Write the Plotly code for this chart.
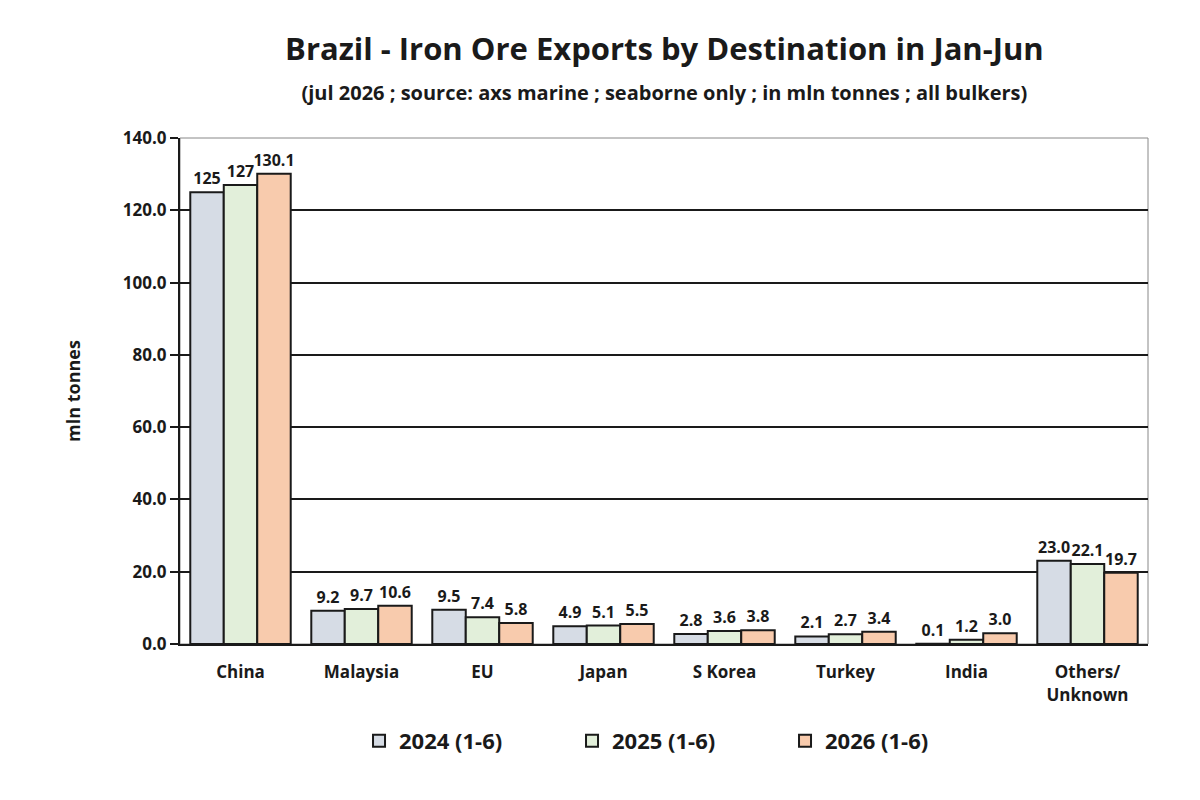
import plotly.graph_objects as go

categories = ["China", "Malaysia", "EU", "Japan", "S Korea", "Turkey", "India", "Others/<br>Unknown"]
y2024 = [125.0, 9.2, 9.5, 4.9, 2.8, 2.1, 0.1, 23.0]
y2025 = [127.0, 9.7, 7.4, 5.1, 3.6, 2.7, 1.2, 22.1]
y2026 = [130.1, 10.6, 5.8, 5.5, 3.8, 3.4, 3.0, 19.7]
labels2024 = ["125", "9.2", "9.5", "4.9", "2.8", "2.1", "0.1", "23.0"]
labels2025 = ["127", "9.7", "7.4", "5.1", "3.6", "2.7", "1.2", "22.1"]
labels2026 = ["130.1", "10.6", "5.8", "5.5", "3.8", "3.4", "3.0", "19.7"]
series_names = ["2024 (1-6)", "2025 (1-6)", "2026 (1-6)"]
colors = ["#d6dce5", "#e2efda", "#f8cbad"]

font = "Open Sans"
ink = "#1a1a1a"
fig = go.Figure()
for name, vals, txt, col in zip(series_names, [y2024, y2025, y2026],
                                [labels2024, labels2025, labels2026], colors):
    fig.add_trace(go.Bar(
        x=categories, y=vals, name=name, text=txt,
        textposition="outside", cliponaxis=False, constraintext="none",
        textfont=dict(family=font, size=16, color=ink, weight="bold"),
        marker=dict(color=col, line=dict(color=ink, width=2)),
    ))

fig.update_layout(
    width=1200, height=800,
    paper_bgcolor="#FFFFFF", plot_bgcolor="#FFFFFF",
    barmode="group", bargap=0.17, bargroupgap=0.0,
    margin=dict(l=172, r=60, t=130, b=164),
    font=dict(family=font, color=ink),
    title=dict(
        text="<b>Brazil - Iron Ore Exports by Destination in Jan-Jun</b><br>"
             "<span style='font-size:20px'><b>(jul 2026 ; source: axs marine ; seaborne only ; in mln tonnes ; all bulkers)</b></span>",
        x=0.547, xanchor="center", y=0.935, yanchor="top",
        font=dict(family=font, size=31, color=ink),
    ),
    legend=dict(
        orientation="h", x=0.515, xanchor="center", y=-0.15, yanchor="top",
        font=dict(family=font, size=22, color=ink, weight="bold"),
        entrywidth=168, itemsizing="constant", traceorder="normal",
    ),
)
fig.update_xaxes(
    showline=True, linecolor=ink, linewidth=2,
    tickfont=dict(family=font, size=17, color=ink, weight="bold"),
    ticks="", ticklabelstandoff=12,
)
fig.update_yaxes(
    range=[0, 140], dtick=20, tickformat=".1f",
    showgrid=True, gridcolor=ink, gridwidth=1.5,
    showline=True, linecolor=ink, linewidth=2,
    ticks="outside", ticklen=8, tickcolor=ink, tickwidth=2,
    tickfont=dict(family=font, size=17, color=ink, weight="bold"),
    title=dict(text="<b>mln tonnes</b>", font=dict(family=font, size=18, color=ink), standoff=38),
    zeroline=False,
)
# thin frame around plot area
fig.add_shape(type="rect", xref="paper", yref="paper", x0=0, y0=0, x1=1, y1=1,
              line=dict(color="#888888", width=1), layer="below")

fig.write_html("out.html")
